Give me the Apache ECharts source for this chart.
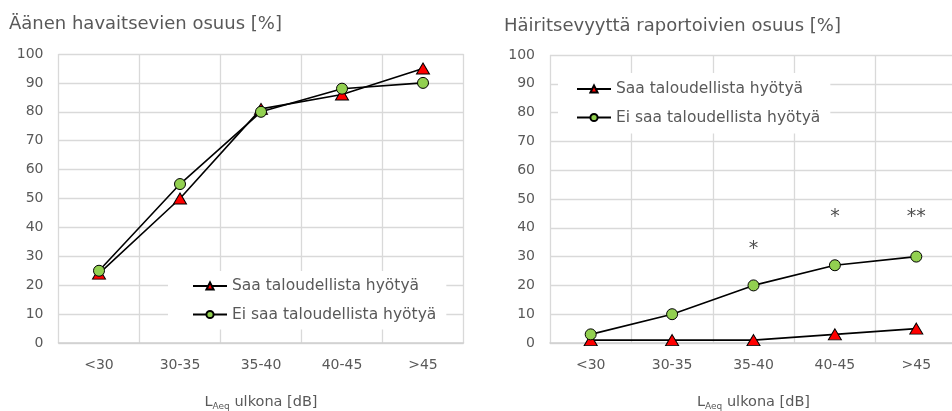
<!DOCTYPE html>
<html>
<head>
<meta charset="utf-8">
<script src="https://cdn.jsdelivr.net/npm/echarts@6/dist/echarts.min.js"></script>
<style>
html,body{margin:0;padding:0;background:#fff;}
#c{width:952px;height:411px;}
</style>
</head>
<body>
<div id="c"></div>
<script>
// ---- data ----
const categories = ['<30', '30-35', '35-40', '40-45', '>45'];
const seriesNames = ['Saa taloudellista hyötyä', 'Ei saa taloudellista hyötyä'];
const titleLeft = 'Äänen havaitsevien osuus [%]';
const titleRight = 'Häiritsevyyttä raportoivien osuus [%]';
const leftSaa = [24, 50, 81, 86, 95];
const leftEiSaa = [25, 55, 80, 88, 90];
const rightSaa = [1, 1, 1, 3, 5];
const rightEiSaa = [3, 10, 20, 27, 30];
const sigMarks = ['', '', '*', '*', '**'];
const sigLevels = [null, null, 34, 45, 45];
const yTicks = [0, 10, 20, 30, 40, 50, 60, 70, 80, 90, 100];

const gray = '#595959';
const gridColor = '#d9d9d9';
const font = 'DejaVu Sans';

function xAxis(idx) {
  return {
    type: 'category', gridIndex: idx, data: categories, boundaryGap: true,
    axisTick: { show: false },
    axisLine: { lineStyle: { color: '#d0d0d0', width: 1.5 } },
    axisLabel: { color: gray, fontFamily: font, fontSize: 14, margin: 15 },
    splitLine: { show: true, lineStyle: { color: gridColor, width: 1.3 } },
    name: '{a|L}{b|Aeq}{a| ulkona [dB]}',
    nameLocation: 'middle', nameGap: 50,
    nameTextStyle: {
      rich: {
        a: { color: gray, fontFamily: font, fontSize: 14.5 },
        b: { color: gray, fontFamily: font, fontSize: 9, padding: [9, 0, 0, 0] }
      }
    }
  };
}
function yAxis(idx) {
  return {
    type: 'value', gridIndex: idx, min: yTicks[0], max: yTicks[yTicks.length - 1], interval: 10,
    axisLine: { show: false }, axisTick: { show: false },
    axisLabel: { color: gray, fontFamily: font, fontSize: 14, margin: 15 },
    splitLine: { lineStyle: { color: gridColor, width: 1.3 } }
  };
}
function lineSeries(name, data, idx, isTri) {
  return {
    name: name, type: 'line', xAxisIndex: idx, yAxisIndex: idx, data: data,
    symbol: isTri ? 'triangle' : 'circle',
    symbolSize: isTri ? [13, 11] : 11,
    showAllSymbol: true,
    lineStyle: { color: '#000', width: 1.6 },
    itemStyle: { color: isTri ? '#ff0000' : '#92d050', borderColor: '#000', borderWidth: 1 },
    emphasis: { disabled: true },
    z: isTri ? 3 : 4
  };
}
function legend(left, top, padding) {
  return {
    orient: 'vertical', left: left, top: top, padding: padding,
    backgroundColor: '#fff', itemWidth: 34, itemHeight: 9, itemGap: 12.5,
    data: seriesNames,
    textStyle: { color: gray, fontFamily: font, fontSize: 15.5 },
    selectedMode: false
  };
}

const chart = echarts.init(document.getElementById('c'), null, { renderer: 'canvas' });
chart.setOption({
  animation: false,
  backgroundColor: '#fff',
  title: [
    { text: titleLeft, left: 4, top: 10, textStyle: { color: gray, fontFamily: font, fontSize: 18, fontWeight: 'normal' } },
    { text: titleRight, left: 499, top: 12, textStyle: { color: gray, fontFamily: font, fontSize: 18, fontWeight: 'normal' } }
  ],
  grid: [
    { left: 58.5, right: 952 - 463.5, top: 54, bottom: 411 - 343, containLabel: false, outerBoundsMode: 'none' },
    { left: 550, right: -5, top: 55, bottom: 411 - 343, containLabel: false, outerBoundsMode: 'none' }
  ],
  xAxis: [xAxis(0), xAxis(1)],
  yAxis: [yAxis(0), yAxis(1)],
  legend: [
    legend(168, 271, [7, 10, 7, 24]),
    legend(558, 73, [8, 10, 8, 18])
  ],
  series: [
    lineSeries(seriesNames[0], leftSaa, 0, true),
    lineSeries(seriesNames[1], leftEiSaa, 0, false),
    lineSeries(seriesNames[0], rightSaa, 1, true),
    lineSeries(seriesNames[1], rightEiSaa, 1, false),
    {
      name: 'sig', type: 'scatter', xAxisIndex: 1, yAxisIndex: 1,
      symbolSize: 0,
      data: categories.map((c, i) => sigLevels[i] == null ? null : [i, sigLevels[i], sigMarks[i]]).filter(d => d),
      label: {
        show: true, position: 'inside', offset: [0, 4], formatter: p => p.value[2],
        color: '#222', fontFamily: 'DejaVu Sans', fontSize: 19
      },
      emphasis: { disabled: true }, silent: true
    }
  ]
});
</script>
</body>
</html>
